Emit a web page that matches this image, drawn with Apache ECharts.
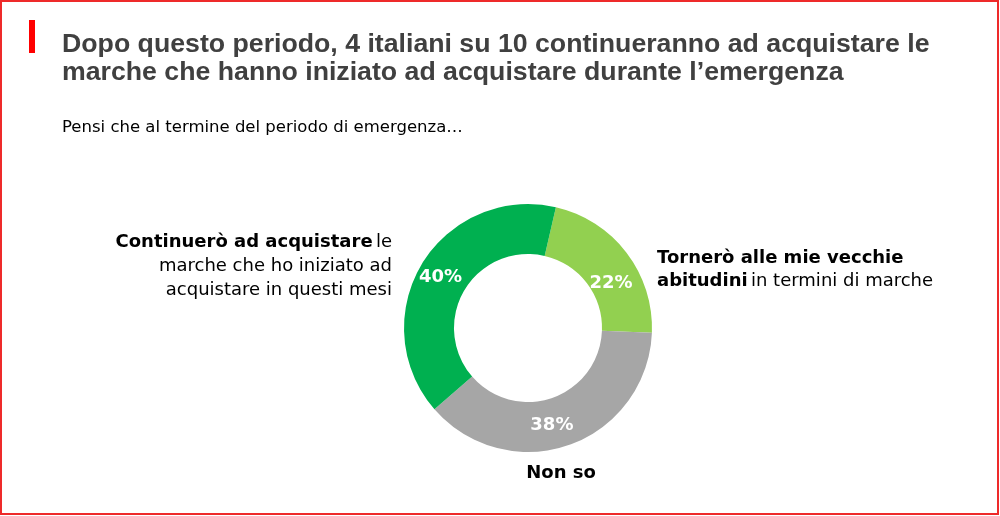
<!DOCTYPE html>
<html><head><meta charset="utf-8">
<script src="https://cdn.jsdelivr.net/npm/echarts@6/dist/echarts.min.js"></script>
<style>html,body{margin:0;padding:0;background:#fff}#c{width:1000px;height:516px}</style>
</head><body><div id="c"></div>
<script>
const categories = ['Tornerò alle mie vecchie abitudini in termini di marche', 'Non so', 'Continuerò ad acquistare le marche che ho iniziato ad acquistare in questi mesi'];
const values = [22, 38, 40];
const colors = ['#92D050', '#A6A6A6', '#00B050'];
const titleText = 'Dopo questo periodo, 4 italiani su 10 continueranno ad acquistare le\nmarche che hanno iniziato ad acquistare durante l\u2019emergenza';
const subtitleText = 'Pensi che al termine del periodo di emergenza\u2026';

const chart = echarts.init(document.getElementById('c'), null, {renderer: 'canvas'});
const font = 'DejaVu Sans, Verdana, sans-serif';
const fs = 18;
const rb = {fontFamily: font, fontWeight: 'bold', fontSize: fs, color: '#000'};
const rn = {fontFamily: font, fontSize: fs, color: '#000'};
chart.setOption({
  animation: false,
  title: {
    text: titleText, left: 57, top: 26,
    textStyle: {fontFamily: 'Liberation Sans, Arial, sans-serif', fontWeight: 'bold', fontSize: 26.7, color: '#404040', lineHeight: 28},
    subtext: subtitleText, itemGap: 32,
    subtextStyle: {fontFamily: font, fontSize: 16.5, color: '#000'}
  },
  graphic: [
    {type: 'rect', shape: {x: 1, y: 1, width: 997, height: 513}, style: {fill: 'none', stroke: '#EE2A2A', lineWidth: 2}},
    {type: 'rect', shape: {x: 29, y: 20, width: 6, height: 33}, style: {fill: '#FF0000'}},
    {type: 'text', x: 392, y: 242, style: {text: '{b|Continuerò ad acquistare} {n|le}', align: 'right', verticalAlign: 'middle', rich: {b: rb, n: rn}}},
    {type: 'text', x: 392, y: 266, style: {text: 'marche che ho iniziato ad', align: 'right', verticalAlign: 'middle', font: fs + 'px ' + font, fill: '#000'}},
    {type: 'text', x: 392, y: 290, style: {text: 'acquistare in questi mesi', align: 'right', verticalAlign: 'middle', font: fs + 'px ' + font, fill: '#000'}},
    {type: 'text', x: 657, y: 258, style: {text: 'Tornerò alle mie vecchie', align: 'left', verticalAlign: 'middle', font: 'bold ' + fs + 'px ' + font, fill: '#000'}},
    {type: 'text', x: 657, y: 281, style: {text: '{b|abitudini} {n|in termini di marche}', align: 'left', verticalAlign: 'middle', rich: {b: rb, n: rn}}},
    {type: 'text', x: 561, y: 473, style: {text: 'Non so', align: 'center', verticalAlign: 'middle', font: 'bold ' + fs + 'px ' + font, fill: '#000'}}
  ],
  series: [{
    type: 'pie',
    center: [528, 328],
    radius: [74, 124],
    startAngle: 77,
    clockwise: true,
    silent: true,
    label: {
      show: true, position: 'inside',
      formatter: p => p.value + '%',
      fontFamily: font, fontWeight: 'bold', fontSize: 18, color: '#fff'
    },
    labelLine: {show: false},
    itemStyle: {borderWidth: 0},
    data: categories.map((c, i) => ({
      name: c, value: values[i], itemStyle: {color: colors[i]},
      label: {offset: [[2, 17], [-10, 1], [0, 2]][i]}
    }))
  }]
});
</script></body></html>
